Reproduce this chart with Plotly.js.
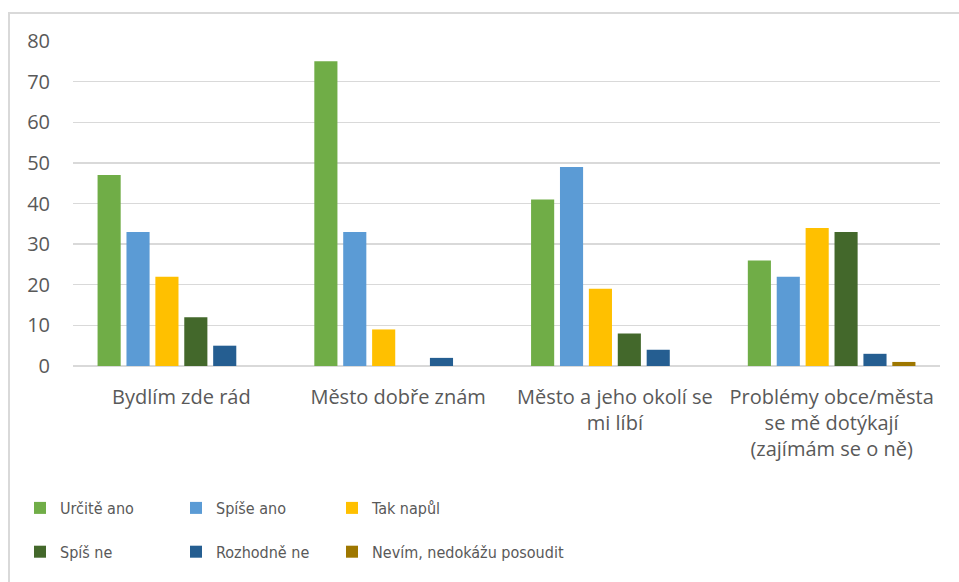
<!DOCTYPE html>
<html>
<head>
<meta charset="utf-8">
<script src="https://cdn.plot.ly/plotly-3.0.1.min.js"></script>
<style>
  html, body { margin: 0; padding: 0; background: #fff; }
  #wrap { position: relative; width: 959px; height: 582px; overflow: hidden; }
  #chart { position: absolute; left: 0; top: 0; width: 959px; height: 582px; }
  #frame { position: absolute; left: 8px; top: 12px; width: 980px; height: 600px;
           border-left: 2px solid #D9D9D9; border-top: 2px solid #D9D9D9; pointer-events: none; }
</style>
</head>
<body>
<div id="wrap">
  <div id="chart"></div>
  <div id="frame"></div>
</div>
<script>
const categories = [
  "Bydlím zde rád",
  "Město dobře znám",
  "Město a jeho okolí se<br>mi líbí",
  "Problémy obce/města<br>se mě dotýkají<br>(zajímám se o ně)"
];
const seriesNames = ["Určitě ano", "Spíše ano", "Tak napůl", "Spíš ne", "Rozhodně ne", "Nevím, nedokážu posoudit"];
const urciteAno   = [47, 75, 41, 26];
const spiseAno    = [33, 33, 49, 22];
const takNapul    = [22, 9, 19, 34];
const spisNe      = [12, 0, 8, 33];
const rozhodneNe  = [5, 2, 4, 3];
const nevim       = [0, 0, 0, 1];
const colors = ["#70AD47", "#5B9BD5", "#FFC000", "#43682B", "#255E91", "#9E7700"];
const yTicks = [0, 10, 20, 30, 40, 50, 60, 70, 80];

const allSeries = [urciteAno, spiseAno, takNapul, spisNe, rozhodneNe, nevim];
const legendIds = ["legend", "legend2", "legend3"];
const traces = allSeries.map((vals, i) => ({
  type: "bar",
  name: seriesNames[i],
  x: categories,
  y: vals,
  marker: { color: colors[i] },
  legend: legendIds[i % 3],
  legendgroup: "g" + i,
  hoverinfo: "skip"
}));

const baseFont = { family: "'Open Sans', 'DejaVu Sans', sans-serif", size: 20, color: "#595959" };
const legendFont = { family: "'DejaVu Sans Condensed', 'Liberation Sans Narrow', sans-serif", size: 16, color: "#595959" };

function legendAt(xpx) {
  return {
    orientation: "v",
    xref: "container", yref: "container",
    x: xpx / 959, xanchor: "left",
    y: 1 - 491 / 582, yanchor: "top",
    tracegroupgap: 20,
    font: legendFont,
    bgcolor: "rgba(0,0,0,0)",
    borderwidth: 0,
    traceorder: "grouped"
  };
}

const layout = {
  width: 959, height: 582,
  margin: { l: 73, r: 19, t: 41, b: 216, pad: 0, autoexpand: false },
  paper_bgcolor: "#ffffff",
  plot_bgcolor: "#ffffff",
  font: baseFont,
  barmode: "group",
  bargap: 0.2,
  bargroupgap: 0.2,
  showlegend: true,
  xaxis: {
    type: "category",
    showgrid: false,
    showline: false,
    zeroline: false,
    ticks: "",
    tickangle: 0,
    tickfont: baseFont,
    ticklabelstandoff: 17,
    automargin: false
  },
  yaxis: {
    range: [0, 80],
    tickvals: yTicks,
    ticktext: yTicks.map(String),
    showgrid: true,
    gridcolor: "#D9D9D9",
    gridwidth: 1.3,
    zeroline: true,
    zerolinecolor: "#D9D9D9",
    zerolinewidth: 2,
    showline: false,
    ticks: "",
    tickfont: baseFont,
    ticklabelstandoff: 22,
    automargin: false
  },
  legend: legendAt(20),
  legend2: legendAt(176),
  legend3: legendAt(332)
};

Plotly.newPlot("chart", traces, layout, { displayModeBar: false, staticPlot: true });
</script>
</body>
</html>
